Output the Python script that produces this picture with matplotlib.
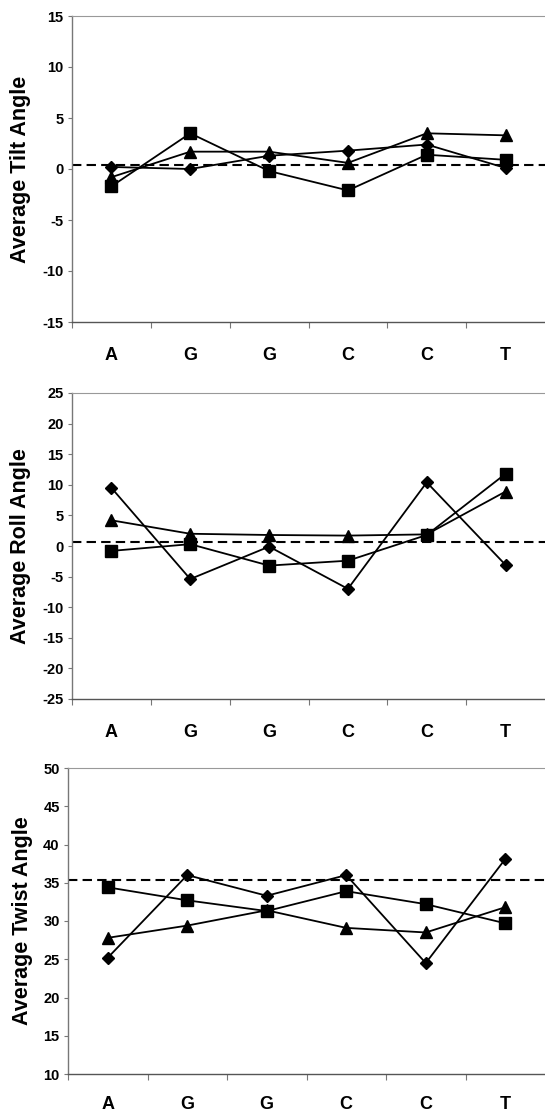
#!/usr/bin/env python3

# import modules
from matplotlib import pyplot as plt
import numpy as np

plt.rcParams['font.family'] = ['Liberation Sans', 'DejaVu Sans']
plt.rcParams['font.weight'] = 'bold'
plt.rcParams['axes.unicode_minus'] = False

# data
bases = ['A', 'G', 'G', 'C', 'C', 'T']

tilt_diamond = [0.2, 0.0, 1.3, 1.8, 2.4, 0.1]
tilt_square = [-1.7, 3.5, -0.2, -2.1, 1.4, 0.9]
tilt_triangle = [-0.8, 1.7, 1.7, 0.6, 3.5, 3.3]
tilt_ref = 0.4

roll_diamond = [9.5, -5.4, -0.1, -7.0, 10.4, -3.1]
roll_square = [-0.8, 0.3, -3.2, -2.4, 1.8, 11.8]
roll_triangle = [4.2, 2.0, 1.8, 1.7, 1.9, 8.9]
roll_ref = 0.6

twist_diamond = [25.2, 36.0, 33.3, 36.0, 24.5, 38.1]
twist_square = [34.4, 32.7, 31.3, 33.9, 32.2, 29.7]
twist_triangle = [27.8, 29.4, 31.4, 29.1, 28.5, 31.8]
twist_ref = 35.3

panels = [
	('Average Tilt Angle', tilt_diamond, tilt_square, tilt_triangle, tilt_ref, (-15, 15), 5),
	('Average Roll Angle', roll_diamond, roll_square, roll_triangle, roll_ref, (-25, 25), 5),
	('Average Twist Angle', twist_diamond, twist_square, twist_triangle, twist_ref, (10, 50), 5),
]

W, H = 545, 1116
fig = plt.figure(figsize=(W / 100, H / 100), dpi=100)

# pixel boxes: left, top, bottom (axes run to the right edge of the image)
boxes = [(72, 16, 322), (72, 393, 699), (68, 768, 1074)]
label_x = [21, 21, 23]
label_pad = [18, 18, 16]

x = np.arange(len(bases))

for (ylabel, dia, sq, tri, ref, ylim, step), (left, top, bottom), lx, lpad in zip(panels, boxes, label_x, label_pad):
	ax = fig.add_axes([left / W, 1 - bottom / H, (W - left) / W, (bottom - top) / H])
	ax.set_xlim(-0.5, 5.5)
	ax.set_ylim(*ylim)

	ax.axhline(ref, color='black', lw=1.5, dashes=(4.5, 2.5), zorder=1)

	kw = dict(color='black', lw=1.3, zorder=3, clip_on=False)
	ax.plot(x, dia, marker='D', ms=6.5, **kw)
	ax.plot(x, tri, marker='^', ms=9, **kw)
	ax.plot(x, sq, marker='s', ms=8.3, **kw)

	# spines
	ax.spines['right'].set_visible(False)
	ax.spines['top'].set_color('#999999')
	ax.spines['top'].set_linewidth(0.8)
	ax.spines['left'].set_color('#777777')
	ax.spines['bottom'].set_color('#555555')
	for s in ('left', 'bottom'):
		ax.spines[s].set_linewidth(1.0)

	# category labels between boundary ticks
	ax.set_xticks(np.arange(-0.5, 5.0, 1))
	ax.set_xticklabels([])
	ax.tick_params(axis='x', which='major', direction='out', length=4.5, width=0.8, color='#777777')
	ax.set_xticks(x, minor=True)
	ax.set_xticklabels(bases, minor=True, fontsize=13, fontweight='bold')
	ax.tick_params(axis='x', which='minor', length=0, pad=lpad)

	ax.set_yticks(np.arange(ylim[0], ylim[1] + 1, step))
	ax.tick_params(axis='y', direction='out', length=3, width=0.8, color='#777777', labelsize=10.5, pad=3)
	for t in ax.get_yticklabels():
		t.set_fontweight('bold')

	fig.text(lx / W, 1 - (top + bottom) / 2 / H, ylabel, rotation=90, ha='center', va='center',
		fontsize=15.5, fontweight='bold')

# write to disk
plt.savefig('out.png', dpi=100)
